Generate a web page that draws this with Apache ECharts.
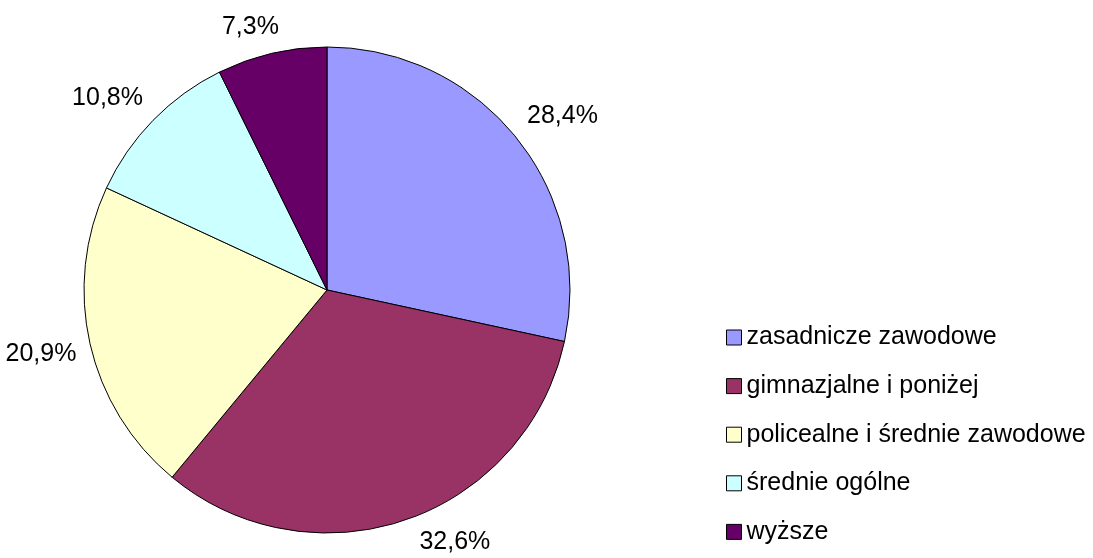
<!DOCTYPE html>
<html lang="pl">
<head>
    <meta charset="UTF-8">
    <script src="https://cdn.jsdelivr.net/npm/echarts@6/dist/echarts.min.js"></script>
</head>
<body style="margin:0;background:#fff;">

<div id="main" style="width: 1093px;height:558px;"></div>

<script type="text/javascript">
    // dane wykresu
    var categories = ['zasadnicze zawodowe', 'gimnazjalne i poniżej', 'policealne i średnie zawodowe', 'średnie ogólne', 'wyższe'];
    var values = [28.4, 32.6, 20.9, 10.8, 7.3];
    var colors = ['#9999FF', '#993366', '#FFFFCC', '#CCFFFF', '#660066'];

    var CX = 327, CY = 290, R = 243, H = 558;

    var myChart = echarts.init(document.getElementById('main'));

    var pieData = [];
    for (var i = 0; i < categories.length; i++) {
        pieData.push({
            name: categories[i],
            value: values[i],
            itemStyle: { color: colors[i] }
        });
    }

    var total = 0;
    values.forEach(function (v) { total += v; });

    // etykiety jak w Excelu: narożnik pudełka na promieniu, tuż za obwodem koła
    function placeLabel(p) {
        var cum = 0;
        for (var k = 0; k < p.dataIndex; k++) cum += values[k];
        var a = (90 - 360 * (cum + values[p.dataIndex] / 2) / total) * Math.PI / 180;
        var w = p.labelRect.width, h = p.labelRect.height;
        var pos = function (ang) {
            var ux = Math.cos(ang), uy = -Math.sin(ang);
            var d = R + 14;
            var fx = Math.min(1, 2.8 * Math.abs(ux)), fy = Math.min(1, 2.8 * Math.abs(uy));
            return [CX + ux * d + (ux < 0 ? -1 : 1) * fx * w / 2,
                    CY + uy * d + (uy < 0 ? -1 : 1) * fy * h / 2];
        };
        var xy = pos(a);
        var step = 0;
        // nie wychodź poza dolną krawędź
        while (xy[1] + h / 2 > H - 2 && step < 90) {
            a += (Math.cos(a) >= 0 ? 1 : -1) * Math.PI / 180;
            xy = pos(a);
            step++;
        }
        return { x: xy[0], y: xy[1], align: 'center', verticalAlign: 'middle' };
    }

    var option = {
        backgroundColor: '#fff',
        animation: false,
        textStyle: { fontFamily: 'Liberation Sans, Arial, sans-serif' },
        legend: {
            orient: 'vertical',
            left: 721,
            top: 320,
            itemWidth: 15,
            itemHeight: 15,
            itemGap: 23.6,
            icon: 'rect',
            selectedMode: false,
            textStyle: { fontSize: 25, color: '#000', padding: [0, 0, 0, 0] },
            itemStyle: { borderColor: '#000', borderWidth: 1 },
            data: categories
        },
        series: [{
            type: 'pie',
            center: [CX, CY],
            radius: R,
            startAngle: 90,
            clockwise: true,
            data: pieData,
            itemStyle: { borderColor: '#000', borderWidth: 1 },
            label: {
                show: true,
                position: 'outside',
                fontSize: 25,
                color: '#000',
                overflow: 'none',
                formatter: function (p) {
                    return p.value.toFixed(1).replace('.', ',') + '%';
                }
            },
            labelLine: { show: false },
            labelLayout: placeLabel,
            emphasis: { disabled: true }
        }]
    };

    myChart.setOption(option);
</script>
</body>
</html>
